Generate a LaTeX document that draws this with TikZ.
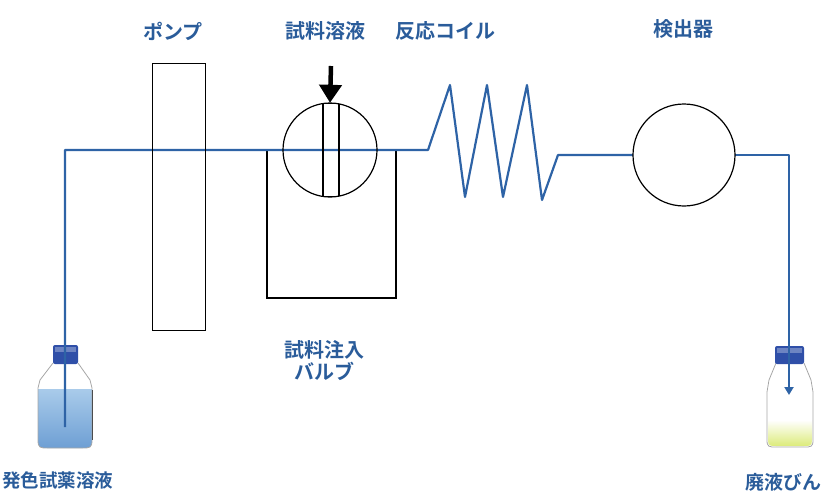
\documentclass[tikz,border=0pt]{standalone}
\usepackage{fontspec}
\newfontfamily\jp{Noto Sans CJK JP}[BoldFont={* Bold}]
\usetikzlibrary{arrows.meta,calc}
\definecolor{tube}{HTML}{2E63A6}
\definecolor{labelblue}{HTML}{2A5C9A}
\definecolor{capblue}{HTML}{2F4FA8}
\definecolor{reagentTop}{HTML}{A9CBEA}
\definecolor{reagentBot}{HTML}{6E9FD4}
\definecolor{waste}{HTML}{DCEB7A}
\tikzset{
  tubeline/.style={draw=tube, line width=2.2pt, line join=round},
  part/.style={draw=black, line width=1.2pt, fill=none},
  lbl/.style={text=labelblue, font=\jp\bfseries\fontsize{20}{23}\selectfont, inner sep=0pt},
  glass/.style={draw=gray!70, line width=0.8pt},
}
\begin{document}
\begin{tikzpicture}[x=1pt,y=-1pt]
\useasboundingbox (0,0) rectangle (828,498);

% pump body
\node[rectangle, minimum width=52pt, minimum height=266pt, inner sep=0pt] (pump) at (179,197) {};

% loop of the injection valve
\coordinate (loopL) at (267,150);
\coordinate (loopR) at (396,150);
\draw[part] (loopL) -- (267,298) -- (396,298) -- (loopR);

% reagent bottle (left)
\shade[top color=reagentTop, bottom color=reagentBot] (38,389) -- (38,440) .. controls (38,448) and (40,448) .. (48,448) -- (82,448) .. controls (90,448) and (92,448) .. (92,440) -- (92,389) -- cycle;
\draw[glass] (53,363) -- (40,380) -- (38,388) -- (38,440) .. controls (38,448) and (40,448) .. (48,448) -- (82,448) .. controls (90,448) and (92,448) .. (92,440) -- (92,388) -- (90,380) -- (78,363);
\draw[gray!60!black, line width=1pt] (92,390) -- (92,440);
\fill[capblue, rounded corners=2pt] (53,345) rectangle (78,364);
\fill[capblue!70!white] (55,347) rectangle (76,352);

% waste bottle (right)
\shade[top color=white, bottom color=waste] (768,420) -- (768,440) .. controls (768,446) and (770,446) .. (776,446) -- (804,446) .. controls (810,446) and (812,446) .. (812,440) -- (812,420) -- cycle;
\draw[glass] (776,363) -- (769,380) -- (767,392) -- (767,440) .. controls (767,447) and (769,447) .. (776,447) -- (804,447) .. controls (811,447) and (813,447) .. (813,440) -- (813,392) -- (811,380) -- (804,363);
\fill[capblue, rounded corners=2pt] (775,346) rectangle (804,364);
\fill[capblue!70!white] (777,348) rectangle (802,353);

% valve and detector bodies
\node[circle, minimum size=94pt, inner sep=0pt] (valve) at (330,150) {};
\node[circle, minimum size=102pt, inner sep=0pt] (detector) at (684,155) {};

% flow path
\coordinate (tubeIn) at (65,427);
\coordinate (coilA) at (428,150);
\coordinate (coilB) at (558,155);
\coordinate (wasteTop) at (789,155);
\draw[tubeline] (tubeIn) -- (65,150) -- (valve.west) -- (valve.east) -- (coilA)
  -- (450,85) -- (465,197) -- (487,85) -- (503,197) -- (527,85) -- (542,200) -- (coilB) -- (detector.west);
\draw[tubeline, -{Triangle[length=8pt,width=9pt]}] (detector.east) -- (wasteTop) -- (789,395);

% outlines drawn over the tube
\draw[part] (pump.south west) rectangle (pump.north east);
\draw[part] (valve.center) circle (47pt);
\draw[part] (323,103.5) -- (323,196.5) (339,104) -- (339,196);
\draw[part] (323,196.5) -- (339,196.5) (323,103.5) -- (339,103.5);
\draw[part] (detector.center) circle (51pt);

% sample inlet arrow
\coordinate (sampleTop) at (331,66);
\draw[black, line width=4.5pt, -{Triangle[length=18pt,width=22pt]}] (sampleTop) -- (valve.north);

% labels
\node[lbl] (lPump) at (173,31) {ポンプ};
\node[lbl] (lSample) at (325,31) {試料溶液};
\node[lbl] (lCoil) at (445,31) {反応コイル};
\node[lbl] (lDet) at (683,29) {検出器};
\node[lbl, align=center] (lValve) at (324,361) {試料注入\\[-1pt]バルブ};
\node[lbl, anchor=west, font=\jp\bfseries\fontsize{18.5}{22}\selectfont] (lReag) at (2,480) {発色試薬溶液};
\node[lbl, font=\jp\bfseries\fontsize{19}{22}\selectfont] (lWaste) at (783,482) {廃液びん};
\end{tikzpicture}
\end{document}
